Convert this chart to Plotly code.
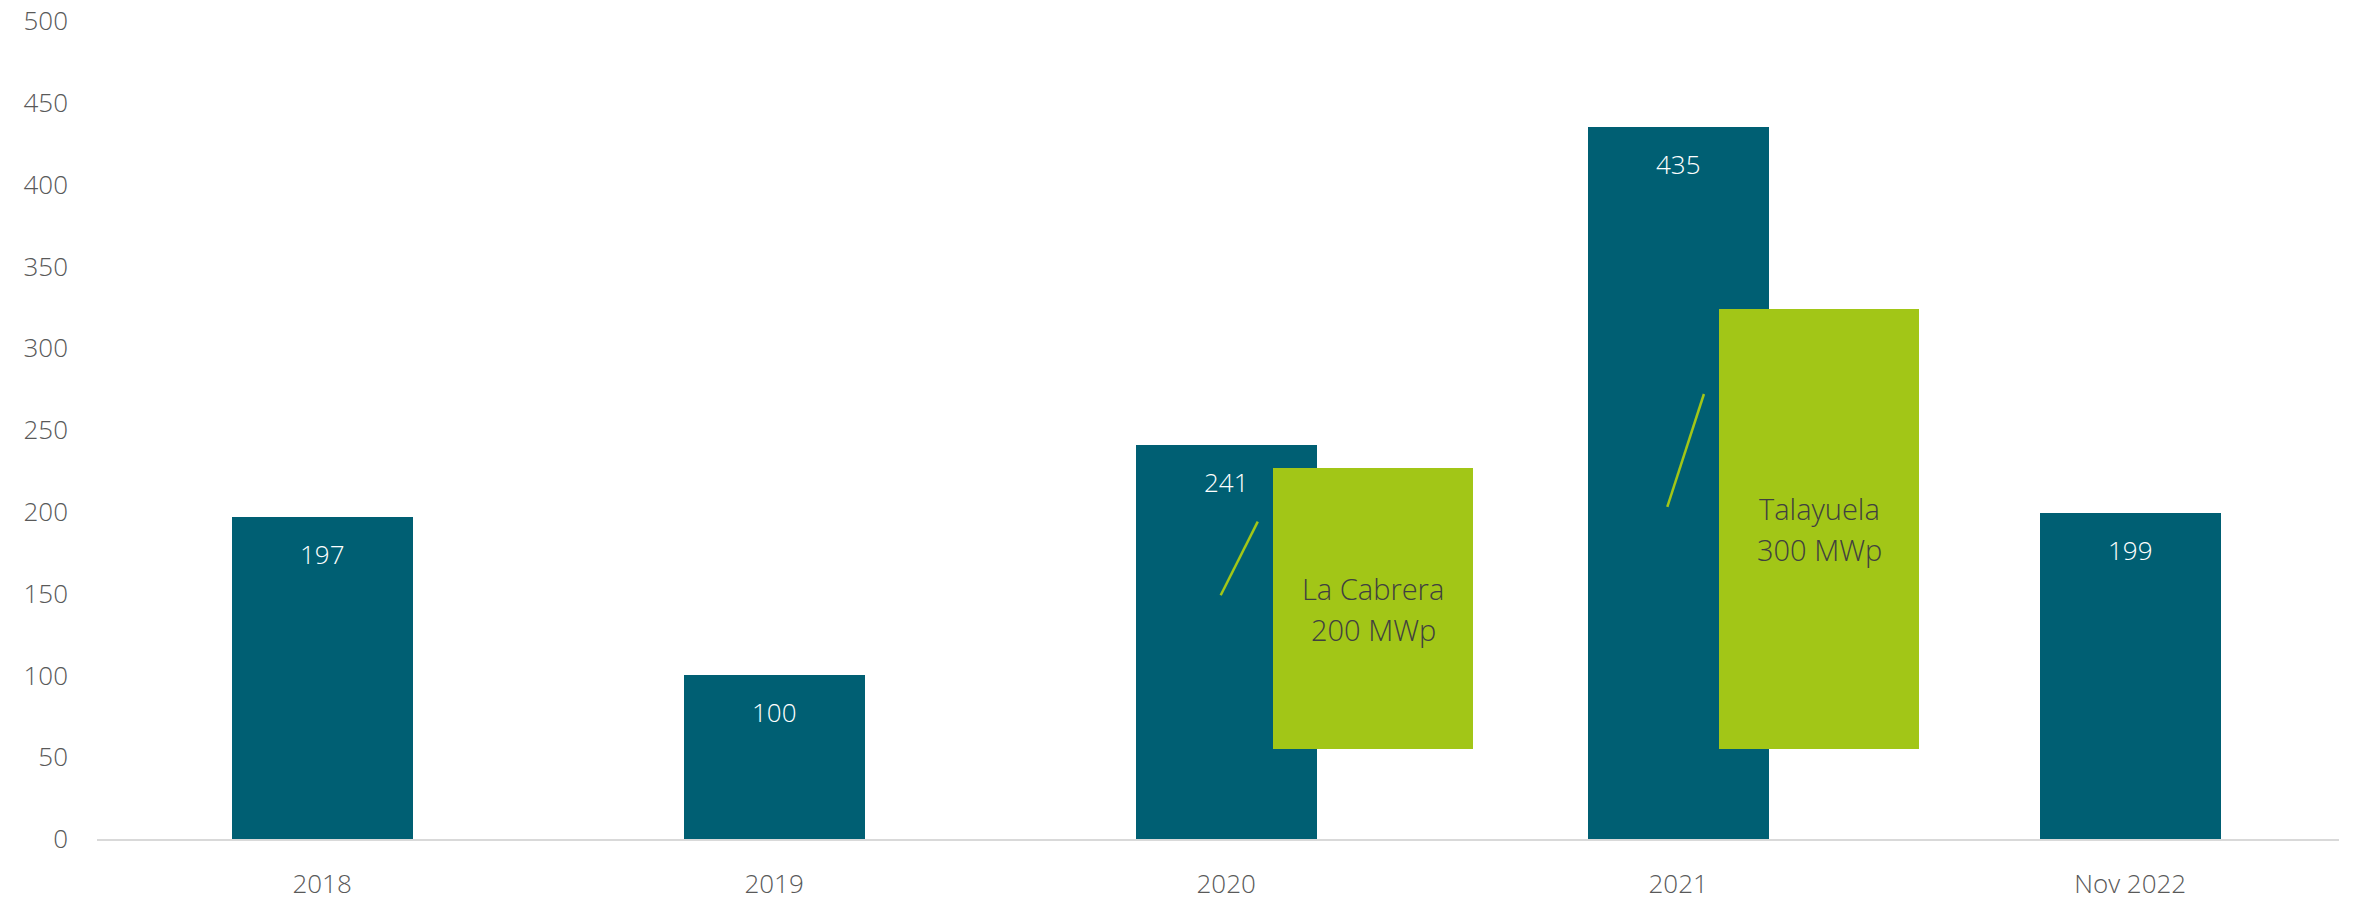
import plotly.graph_objects as go

# ---- data ----
categories = ["2018", "2019", "2020", "2021", "Nov 2022"]
values = [197, 100, 241, 435, 199]
y_ticks = [0, 50, 100, 150, 200, 250, 300, 350, 400, 450, 500]

# callout boxes (project labels), anchored to category index
callout_cat = [2, 3]
callout_line1 = ["La Cabrera", "Talayuela"]
callout_line2 = ["200 MWp", "300 MWp"]
callout_top = [227, 324]
callout_bottom = [55, 55]
callout_offset = [0.325, 0.312]   # x offset of box centre from category
callout_width = [0.442, 0.442]

# leader lines (x offset from category, y values)
leader_x = [[-0.012, 0.070], [-0.024, 0.057]]
leader_y = [[149, 194], [203, 272]]

BLUE = "#005f73"
GREEN = "#a2c617"
FONT = "Open Sans"
FS = 26

xs = list(range(len(categories)))

fig = go.Figure()
fig.add_trace(go.Bar(
    x=xs, y=values, width=0.4, marker=dict(color=BLUE, line=dict(width=0)),
    hoverinfo="skip", showlegend=False,
))

for c, l1, l2, top, bot, off, w in zip(callout_cat, callout_line1, callout_line2,
                                       callout_top, callout_bottom,
                                       callout_offset, callout_width):
    fig.add_trace(go.Bar(
        x=[c + off], y=[top - bot], base=[bot], width=w,
        marker=dict(color=GREEN, line=dict(width=0)),
        showlegend=False, hoverinfo="skip",
    ))
    mid = (top + bot) / 2
    for txt, shift in ((l1, 20), (l2, -21)):
        fig.add_annotation(
            x=c + off, y=mid, text=txt, showarrow=False, yshift=shift,
            font=dict(family=FONT, size=29, color="#404040", weight=300),
        )

for c, lx, ly in zip(callout_cat, leader_x, leader_y):
    fig.add_trace(go.Scatter(
        x=[c + v for v in lx], y=ly, mode="lines",
        line=dict(color=GREEN, width=2.5), showlegend=False, hoverinfo="skip",
    ))

for i, v in enumerate(values):
    fig.add_annotation(
        x=i, y=v, text=str(v), showarrow=False, yshift=-37,
        font=dict(family=FONT, size=FS, color="white", weight=300),
    )

fig.update_layout(
    width=2369, height=902,
    margin=dict(l=97, r=30, t=21, b=63),
    plot_bgcolor="white", paper_bgcolor="white",
    barmode="overlay", bargap=0,
    font=dict(family=FONT, size=FS, color="#595959", weight=300),
)
fig.update_xaxes(
    range=[-0.498, 4.462],
    tickvals=xs, ticktext=categories,
    showgrid=False, zeroline=False,
    showline=True, linecolor="#d9d9d9", linewidth=2,
    ticks="", ticklabelstandoff=21, automargin=False,
    tickfont=dict(family=FONT, size=FS, color="#595959", weight=300),
)
fig.update_yaxes(
    range=[0, 500], tickvals=y_ticks,
    showgrid=False, zeroline=False, showline=False,
    ticks="", ticklabelstandoff=28, automargin=False,
    tickfont=dict(family=FONT, size=FS, color="#595959", weight=300),
)

fig.write_html("out.html")
